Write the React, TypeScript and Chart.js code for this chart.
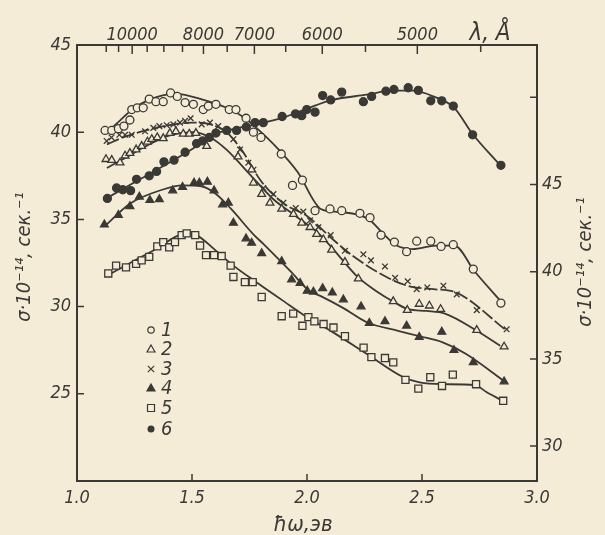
import React, { useEffect, useRef } from 'react';
import { Chart, registerables } from 'chart.js';

Chart.register(...registerables);

const INK = '#3a3935';
const PAPER = '#f4ecd6';
const FONT = '"DejaVu Sans Condensed", "DejaVu Sans", sans-serif';

// ---- series 1 (open circles) ----
const x1 = [1.122, 1.151, 1.180, 1.204, 1.230, 1.238, 1.262, 1.288, 1.314, 1.343, 1.375, 1.407, 1.436, 1.470, 1.506, 1.549, 1.571, 1.604, 1.662, 1.691, 1.735, 1.767, 1.800, 1.888, 1.937, 1.980, 2.035, 2.100, 2.151, 2.230, 2.274, 2.322, 2.380, 2.433, 2.477, 2.538, 2.583, 2.636, 2.723, 2.843];
const y1 = [40.1, 40.1, 40.2, 40.35, 40.7, 41.3, 41.4, 41.4, 41.9, 41.75, 41.75, 42.25, 42.05, 41.7, 41.6, 41.3, 41.5, 41.6, 41.3, 41.3, 40.8, 40.0, 39.7, 38.75, 36.95, 37.25, 35.5, 35.6, 35.5, 35.35, 35.1, 34.1, 33.7, 33.15, 33.75, 33.75, 33.45, 33.55, 32.15, 30.2];
const cx1 = [1.12, 1.16, 1.24, 1.32, 1.43, 1.55, 1.65, 1.72, 1.78, 1.87, 1.96, 2.06, 2.12, 2.21, 2.27, 2.33, 2.39, 2.46, 2.56, 2.64, 2.73, 2.85];
const cy1 = [40.0, 40.35, 41.3, 41.9, 42.2, 41.85, 41.4, 40.9, 40.25, 39.1, 37.7, 35.6, 35.45, 35.3, 35.0, 34.2, 33.5, 33.3, 33.5, 33.5, 32.0, 30.2];

// ---- series 2 (open triangles) ----
const x2 = [1.126, 1.151, 1.187, 1.209, 1.230, 1.257, 1.281, 1.306, 1.325, 1.349, 1.375, 1.404, 1.430, 1.462, 1.488, 1.517, 1.564, 1.700, 1.759, 1.767, 1.803, 1.839, 1.890, 1.941, 1.977, 2.013, 2.042, 2.071, 2.107, 2.165, 2.223, 2.375, 2.436, 2.488, 2.532, 2.581, 2.738, 2.857];
const y2 = [38.45, 38.4, 38.25, 38.65, 38.8, 39.0, 39.2, 39.45, 39.6, 39.7, 39.65, 39.95, 40.05, 39.9, 39.9, 39.95, 39.2, 38.6, 37.85, 37.1, 36.45, 35.95, 35.6, 35.3, 34.8, 34.55, 34.15, 33.85, 33.25, 32.55, 31.6, 30.3, 29.8, 30.15, 30.05, 29.85, 28.65, 27.7];
const cx2 = [1.13, 1.2, 1.3, 1.4, 1.5, 1.58, 1.65, 1.75, 1.85, 1.95, 2.05, 2.12, 2.22, 2.3, 2.38, 2.44, 2.52, 2.6, 2.74, 2.84];
const cy2 = [37.95, 38.45, 39.2, 39.8, 40.0, 39.7, 39.0, 37.6, 36.2, 35.2, 34.2, 33.2, 31.7, 30.9, 30.25, 29.85, 29.75, 29.6, 28.6, 27.75];

// ---- series 3 (crosses) ----
const x3 = [1.129, 1.150, 1.184, 1.209, 1.238, 1.296, 1.332, 1.358, 1.390, 1.419, 1.448, 1.470, 1.494, 1.542, 1.578, 1.614, 1.651, 1.680, 1.709, 1.745, 1.767, 1.810, 1.854, 1.897, 1.951, 1.984, 2.013, 2.049, 2.103, 2.165, 2.245, 2.278, 2.339, 2.383, 2.438, 2.477, 2.523, 2.593, 2.651, 2.738, 2.868];
const y3 = [39.5, 39.7, 39.85, 39.85, 39.85, 40.05, 40.25, 40.35, 40.4, 40.45, 40.55, 40.65, 40.8, 40.45, 40.55, 40.35, 40.05, 39.6, 39.0, 38.25, 37.85, 36.8, 36.45, 35.95, 35.65, 35.45, 34.95, 34.55, 34.1, 33.2, 33.0, 32.65, 32.3, 31.65, 31.45, 31.0, 31.1, 31.2, 30.7, 29.8, 28.7];
const cx3 = [1.13, 1.2, 1.3, 1.4, 1.5, 1.58, 1.65, 1.72, 1.8, 1.9, 2.0, 2.1, 2.2, 2.36, 2.45, 2.55, 2.65, 2.87];
const cy3 = [39.3, 39.7, 40.1, 40.4, 40.55, 40.45, 40.0, 38.9, 37.2, 35.9, 35.2, 34.0, 32.9, 31.6, 31.15, 31.0, 30.8, 28.6];

// ---- series 4 (filled triangles) ----
const x4 = [1.119, 1.180, 1.230, 1.271, 1.317, 1.358, 1.416, 1.459, 1.509, 1.532, 1.567, 1.596, 1.633, 1.658, 1.680, 1.735, 1.759, 1.803, 1.890, 1.933, 1.970, 2.001, 2.028, 2.068, 2.110, 2.158, 2.235, 2.271, 2.339, 2.433, 2.488, 2.586, 2.639, 2.723, 2.857];
const y4 = [34.7, 35.25, 35.75, 36.3, 36.1, 36.15, 36.65, 36.85, 37.1, 37.1, 37.15, 36.65, 35.85, 35.95, 34.8, 33.9, 33.65, 33.05, 32.6, 31.55, 31.35, 30.9, 30.85, 31.05, 30.8, 30.4, 30.0, 29.05, 29.15, 28.9, 28.25, 28.55, 27.5, 26.8, 25.7];
const cx4 = [1.12, 1.23, 1.37, 1.46, 1.54, 1.6, 1.67, 1.77, 1.81, 1.93, 2.01, 2.06, 2.16, 2.26, 2.4, 2.49, 2.59, 2.69, 2.86];
const cy4 = [34.6, 35.9, 36.7, 36.95, 36.9, 36.5, 35.6, 34.1, 33.6, 32.0, 30.9, 30.6, 29.9, 29.1, 28.6, 28.3, 27.95, 27.3, 25.7];

// ---- series 5 (open squares) ----
const x5 = [1.136, 1.170, 1.213, 1.257, 1.281, 1.314, 1.349, 1.375, 1.401, 1.426, 1.455, 1.477, 1.514, 1.535, 1.561, 1.596, 1.629, 1.668, 1.680, 1.730, 1.764, 1.803, 1.890, 1.940, 1.980, 2.006, 2.032, 2.072, 2.115, 2.165, 2.246, 2.280, 2.339, 2.375, 2.428, 2.484, 2.536, 2.587, 2.634, 2.735, 2.853];
const y5 = [31.9, 32.35, 32.25, 32.45, 32.65, 32.85, 33.45, 33.7, 33.4, 33.7, 34.1, 34.2, 34.1, 33.5, 32.95, 32.95, 32.9, 32.35, 31.7, 31.4, 31.4, 30.55, 29.45, 29.6, 28.9, 29.4, 29.15, 29.0, 28.8, 28.3, 27.65, 27.1, 27.05, 26.8, 25.8, 25.3, 25.95, 25.45, 26.1, 25.55, 24.6];
const cx5 = [1.14, 1.33, 1.48, 1.52, 1.6, 1.68, 1.78, 1.9, 2.0, 2.11, 2.27, 2.42, 2.49, 2.59, 2.73, 2.78, 2.85];
const cy5 = [31.85, 33.2, 34.2, 34.1, 33.25, 32.35, 31.4, 30.3, 29.4, 28.55, 27.2, 25.95, 25.65, 25.55, 25.5, 25.1, 24.6];

// ---- series 6 (filled circles, right axis) ----
const x6 = [1.132, 1.172, 1.199, 1.233, 1.259, 1.314, 1.346, 1.378, 1.422, 1.470, 1.520, 1.546, 1.575, 1.604, 1.651, 1.694, 1.736, 1.774, 1.810, 1.892, 1.950, 1.977, 1.999, 2.035, 2.068, 2.103, 2.151, 2.245, 2.281, 2.343, 2.378, 2.440, 2.484, 2.538, 2.586, 2.636, 2.720, 2.843];
const y6 = [44.2, 44.8, 44.7, 44.65, 45.3, 45.5, 45.75, 46.3, 46.4, 46.85, 47.35, 47.5, 47.7, 47.95, 48.1, 48.1, 48.3, 48.55, 48.55, 48.9, 49.05, 48.95, 49.3, 49.15, 50.1, 49.85, 50.3, 49.75, 50.05, 50.35, 50.45, 50.55, 50.4, 49.8, 49.8, 49.5, 47.85, 46.1];
const cx6 = [1.12, 1.26, 1.4, 1.52, 1.59, 1.67, 1.78, 1.9, 2.0, 2.11, 2.26, 2.37, 2.46, 2.55, 2.64, 2.72, 2.84];
const cy6 = [44.15, 45.2, 46.25, 47.2, 47.85, 48.15, 48.45, 48.85, 49.35, 49.85, 50.15, 50.38, 50.38, 50.05, 49.4, 47.9, 46.1];

// ---- axes ----
const xTicks = [1.0, 1.5, 2.0, 2.5, 3.0];
const leftTicks = [25, 30, 35, 40, 45];
const rightTicks = [30, 35, 40, 45, 50];
const rightTickLabels = ['30', '35', '40', '45', ''];
const lambdaTicks = [11000, 10500, 10000, 9500, 9000, 8500, 8000, 7500, 7000, 6500, 6000, 5500, 5000, 4500];
const lambdaLabels = ['', '', '10000', '', '', '', '8000', '', '7000', '', '6000', '', '5000', ''];
const HC = 12398.4; // eV·Å
const legendLabels = ['1', '2', '3', '4', '5', '6'];

const Y_TITLE = 'σ·10⁻¹⁴, сек.⁻¹';
const X_TITLE = 'ħω,эв';
const TOP_TITLE = 'λ, Å';

const pts = (xs: number[], ys: number[]) => xs.map((x, i) => ({ x, y: ys[i] }));

const scatter = (xs: number[], ys: number[], style: string, radius: number, filled: boolean, axis = 'y') => ({
  type: 'line' as const,
  data: pts(xs, ys),
  yAxisID: axis,
  xAxisID: 'x',
  showLine: false,
  pointStyle: style,
  pointRadius: radius,
  pointBorderWidth: 1.3,
  pointBorderColor: INK,
  pointBackgroundColor: filled ? INK : PAPER,
  borderColor: INK,
  order: 0,
});

const curve = (xs: number[], ys: number[], axis = 'y', dash: number[] = []) => ({
  type: 'line' as const,
  data: pts(xs, ys),
  yAxisID: axis,
  xAxisID: 'x',
  borderColor: INK,
  borderWidth: 1.8,
  borderDash: dash,
  pointRadius: 0,
  cubicInterpolationMode: 'monotone' as const,
  fill: false,
  order: 1,
});

const paperPlugin = {
  id: 'paper',
  beforeDraw(chart: any) {
    const { ctx, width, height } = chart;
    ctx.save();
    ctx.fillStyle = PAPER;
    ctx.fillRect(0, 0, width, height);
    ctx.restore();
  },
};

const inwardTicks = {
  id: 'inwardTicks',
  afterDraw(chart: any) {
    const { ctx, chartArea: a, scales } = chart;
    ctx.save();
    ctx.strokeStyle = INK;
    ctx.lineWidth = 1.5;
    ctx.beginPath();
    scales.x.ticks.forEach((t: any) => {
      if (t.value <= 1 || t.value >= 3) return;
      const px = scales.x.getPixelForValue(t.value);
      ctx.moveTo(px, a.bottom);
      ctx.lineTo(px, a.bottom - 7);
    });
    scales.xTop.ticks.forEach((t: any, i: number) => {
      const px = scales.xTop.getPixelForValue(t.value);
      const len = lambdaLabels[i] ? 9 : 7;
      ctx.moveTo(px, a.top);
      ctx.lineTo(px, a.top + len);
    });
    scales.y.ticks.forEach((t: any) => {
      const py = scales.y.getPixelForValue(t.value);
      ctx.moveTo(a.left, py);
      ctx.lineTo(a.left + 7, py);
    });
    scales.yR.ticks.forEach((t: any) => {
      const py = scales.yR.getPixelForValue(t.value);
      ctx.moveTo(a.right, py);
      ctx.lineTo(a.right - 7, py);
    });
    ctx.stroke();
    ctx.restore();
  },
};

const textPlugin = {
  id: 'texts',
  afterDraw(chart: any) {
    const { ctx } = chart;
    ctx.save();
    ctx.fillStyle = INK;
    ctx.strokeStyle = INK;
    ctx.textAlign = 'center';
    ctx.textBaseline = 'middle';
    ctx.font = `italic 20px ${FONT}`;
    ctx.save();
    ctx.translate(25, 257);
    ctx.rotate(-Math.PI / 2);
    ctx.fillText(Y_TITLE, 0, 0);
    ctx.restore();
    ctx.save();
    ctx.translate(586, 262);
    ctx.rotate(-Math.PI / 2);
    ctx.fillText(Y_TITLE, 0, 0);
    ctx.restore();
    ctx.font = `italic 22px ${FONT}`;
    ctx.fillText(X_TITLE, 303, 525);
    ctx.font = `italic 24px ${FONT}`;
    ctx.fillText(TOP_TITLE, 490, 34);

    // legend
    const ly = [330, 349, 369, 388, 408, 429];
    const mx = 151;
    ctx.lineWidth = 1.2;
    ly.forEach((y, i) => {
      ctx.beginPath();
      if (i === 0) {
        ctx.arc(mx, y, 3.2, 0, Math.PI * 2);
        ctx.stroke();
      } else if (i === 1 || i === 3) {
        ctx.moveTo(mx, y - 4);
        ctx.lineTo(mx + 4, y + 3);
        ctx.lineTo(mx - 4, y + 3);
        ctx.closePath();
        if (i === 3) ctx.fill();
        ctx.stroke();
      } else if (i === 2) {
        ctx.moveTo(mx - 3.2, y - 3.2);
        ctx.lineTo(mx + 3.2, y + 3.2);
        ctx.moveTo(mx + 3.2, y - 3.2);
        ctx.lineTo(mx - 3.2, y + 3.2);
        ctx.stroke();
      } else if (i === 4) {
        ctx.rect(mx - 3.5, y - 3.5, 7, 7);
        ctx.stroke();
      } else {
        ctx.arc(mx, y, 3.5, 0, Math.PI * 2);
        ctx.fill();
      }
    });
    ctx.font = `italic 20px ${FONT}`;
    ctx.textAlign = 'left';
    ly.forEach((y, i) => ctx.fillText(legendLabels[i], 161, y + 1));
    ctx.restore();
  },
};

const tickFont = { family: FONT, style: 'italic' as const, size: 18 };

export default function App() {
  const ref = useRef<HTMLCanvasElement | null>(null);
  useEffect(() => {
    if (!ref.current) return;
    const chart = new Chart(ref.current, {
      type: 'line',
      data: {
        datasets: [
          curve(cx1, cy1),
          curve(cx2, cy2),
          curve(cx3, cy3, 'y', [13, 3]),
          curve(cx4, cy4),
          curve(cx5, cy5),
          curve(cx6, cy6, 'yR'),
          scatter(x1, y1, 'circle', 4, false),
          scatter(x2, y2, 'triangle', 4.5, false),
          scatter(x3, y3, 'crossRot', 4, false),
          scatter(x4, y4, 'triangle', 4.5, true),
          scatter(x5, y5, 'rect', 5, false),
          scatter(x6, y6, 'circle', 4, true, 'yR'),
        ] as any,
      },
      options: {
        responsive: false,
        animation: false,
        events: [],
        layout: { padding: 0 },
        plugins: { legend: { display: false }, tooltip: { enabled: false }, title: { display: false } },
        scales: {
          x: {
            type: 'linear',
            position: 'bottom',
            min: 1,
            max: 3,
            afterBuildTicks: (s: any) => { s.ticks = xTicks.map((v) => ({ value: v })); },
            afterFit: (s: any) => { s.height = 54; },
            grid: { display: false, drawTicks: false },
            border: { display: true, color: INK, width: 2 },
            ticks: { color: INK, font: tickFont, padding: 7, maxRotation: 0, autoSkip: false, callback: (v: any) => Number(v).toFixed(1) },
          },
          xTop: {
            type: 'linear',
            position: 'top',
            min: 1,
            max: 3,
            afterBuildTicks: (s: any) => { s.ticks = lambdaTicks.map((l) => ({ value: HC / l })); },
            afterFit: (s: any) => { s.height = 45; },
            grid: { display: false, drawTicks: false },
            border: { display: true, color: INK, width: 2 },
            ticks: { color: INK, font: tickFont, padding: -1, maxRotation: 0, autoSkip: false, callback: (_v: any, i: number) => lambdaLabels[i] },
          },
          y: {
            type: 'linear',
            position: 'left',
            min: 20,
            max: 45,
            afterBuildTicks: (s: any) => { s.ticks = leftTicks.map((v) => ({ value: v })); },
            afterFit: (s: any) => { s.width = 77; },
            grid: { display: false, drawTicks: false },
            border: { display: true, color: INK, width: 2 },
            ticks: { color: INK, font: tickFont, padding: 6, autoSkip: false, callback: (v: any) => String(v) },
          },
          yR: {
            type: 'linear',
            position: 'right',
            min: 28,
            max: 53,
            afterBuildTicks: (s: any) => { s.ticks = rightTicks.map((v) => ({ value: v })); },
            afterFit: (s: any) => { s.width = 68; },
            grid: { display: false, drawTicks: false },
            border: { display: true, color: INK, width: 2 },
            ticks: { color: INK, font: tickFont, padding: 5, autoSkip: false, callback: (_v: any, i: number) => rightTickLabels[i] },
          },
        },
      } as any,
      plugins: [paperPlugin, inwardTicks, textPlugin],
    });
    return () => chart.destroy();
  }, []);
  return (
    <div style={{ position: 'absolute', left: 0, top: 0, width: 605, height: 535, background: PAPER }}>
      <canvas ref={ref} width={605} height={535} style={{ display: 'block' }} />
    </div>
  );
}
